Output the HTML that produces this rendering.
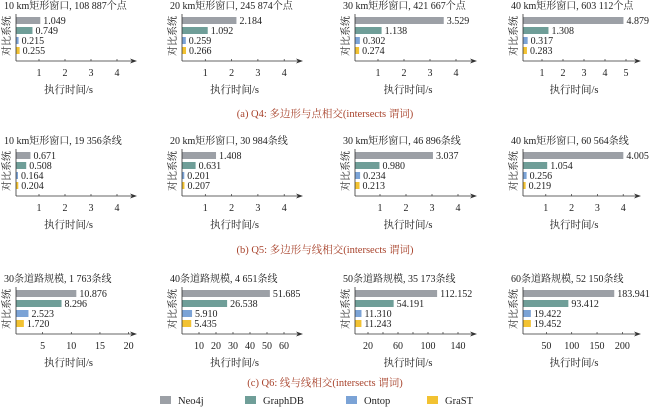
<!DOCTYPE html>
<html><head><meta charset="utf-8"><style>
html,body{margin:0;padding:0;background:#fff;}
svg{display:block;font-family:"Liberation Serif","Noto Serif CJK SC",serif;}
</style></head><body>
<svg id="s" width="650" height="414" viewBox="0 0 650 414" xmlns="http://www.w3.org/2000/svg"></svg>
<script>
const S=document.getElementById('s');let h='';
const cols=['#9ca0a6','#6f9e98','#7ba3d6','#f2c232'];
const ax=[16,182,355,523], ae=[137,303,477,641];
const rows=[0,135,273];
const P=[
[{t:'10 km矩形窗口, 108 887个点',o:13,s:26,ticks:[1,2,3,4],v:['1.049','0.749','0.215','0.255']},
 {t:'20 km矩形窗口, 245 874个点',o:179,s:26.3,ticks:[1,2,3,4],v:['2.184','1.092','0.259','0.266']},
 {t:'30 km矩形窗口, 421 667个点',o:352,s:26,ticks:[1,2,3,4],v:['3.529','1.138','0.302','0.274']},
 {t:'40 km矩形窗口, 603 112个点',o:521,s:21,ticks:[1,2,3,4,5],v:['4.879','1.308','0.317','0.283']}],
[{t:'10 km矩形窗口, 19 356条线',o:13,s:26,ticks:[1,2,3,4],v:['0.671','0.508','0.164','0.204']},
 {t:'20 km矩形窗口, 30 984条线',o:179,s:26.3,ticks:[1,2,3,4],v:['1.408','0.631','0.201','0.207']},
 {t:'30 km矩形窗口, 46 896条线',o:354,s:26,ticks:[1,2,3,4],v:['3.037','0.980','0.234','0.213']},
 {t:'40 km矩形窗口, 60 564条线',o:520,s:25.8,ticks:[1,2,3,4],v:['4.005','1.054','0.256','0.219']}],
[{t:'30条道路规模, 1 763条线',o:14,s:5.73,ticks:[5,10,15,20],v:['10.876','8.296','2.523','1.720']},
 {t:'40条道路规模, 4 651条线',o:182,s:1.7,ticks:[10,20,30,40,50,60],v:['51.685','26.538','5.910','5.435']},
 {t:'50条道路规模, 35 173条线',o:353,s:0.75,ticks:[20,60,100,140],minor:[40,80,120],v:['112.152','54.191','11.310','11.243']},
 {t:'60条道路规模, 52 150条线',o:521,s:0.507,ticks:[50,100,150,200],v:['183.941','93.412','19.422','19.452']}]];
const barY=[17,27,37,47];
P.forEach((row,ri)=>{const dy=rows[ri];row.forEach((p,ci)=>{
 const x0=ax[ci],x1=ae[ci];
 h+=`<text x="${x0-12}" y="${dy+9}" font-size="10" fill="#222">${p.t}</text>`;
 h+=`<text transform="translate(${x0-6},${dy+36}) rotate(-90)" font-size="10" text-anchor="middle" fill="#222">对比系统</text>`;
 p.v.forEach((v,i)=>{const w=Math.max(2,p.o+p.s*parseFloat(v)-x0);
  h+=`<rect x="${x0}" y="${dy+barY[i]}" width="${w}" height="7" fill="${cols[i]}"/>`;
  h+=`<text x="${x0+w+3}" y="${dy+barY[i]+7}" font-size="10" fill="#222">${v}</text>`;});
 h+=`<line x1="${x0}" y1="${dy+14}" x2="${x0}" y2="${dy+61}" stroke="#333" stroke-width="0.8"/>`;
 h+=`<line x1="${x0}" y1="${dy+61}" x2="${x1-4}" y2="${dy+61}" stroke="#333" stroke-width="0.8"/>`;
 h+=`<polygon points="${x1},${dy+61} ${x1-7},${dy+58.5} ${x1-5},${dy+61} ${x1-7},${dy+63.5}" fill="#333"/>`;
 p.ticks.forEach(t=>{const x=p.o+p.s*t;h+=`<line x1="${x}" y1="${dy+59}" x2="${x}" y2="${dy+61}" stroke="#333" stroke-width="0.7"/><text x="${x}" y="${dy+76}" font-size="10" text-anchor="middle" fill="#222">${t}</text>`;});
 (p.minor||[]).forEach(t=>{const x=p.o+p.s*t;h+=`<line x1="${x}" y1="${dy+59}" x2="${x}" y2="${dy+61}" stroke="#333" stroke-width="0.7"/>`;});
 h+=`<text x="${(x0+x1)/2-8}" y="${dy+93}" font-size="10.5" text-anchor="middle" fill="#222">执行时间/s</text>`;
});});
const cap=[[117,'(a) Q4: 多边形与点相交(intersects 谓词)'],[253,'(b) Q5: 多边形与线相交(intersects 谓词)'],[386,'(c) Q6: 线与线相交(intersects 谓词)']];
cap.forEach(c=>h+=`<text x="325" y="${c[0]}" font-size="10.5" text-anchor="middle" fill="#a8432c">${c[1]}</text>`);
[[160,'Neo4j'],[245,'GraphDB'],[346,'Ontop'],[427,'GraST']].forEach((l,i)=>{
 h+=`<rect x="${l[0]}" y="396" width="11" height="8" fill="${cols[i]}"/><text x="${l[0]+18}" y="404" font-size="10.5" fill="#222">${l[1]}</text>`;});
S.innerHTML=h;
</script>
</body></html>
